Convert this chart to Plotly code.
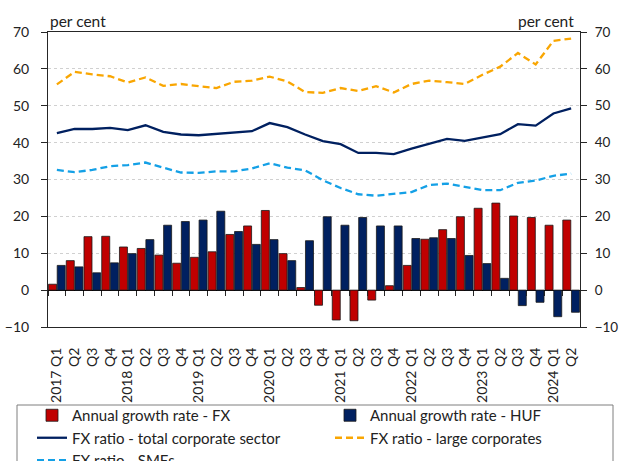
import plotly.graph_objects as go

quarters = ["2017 Q1", "2017 Q2", "2017 Q3", "2017 Q4",
            "2018 Q1", "2018 Q2", "2018 Q3", "2018 Q4",
            "2019 Q1", "2019 Q2", "2019 Q3", "2019 Q4",
            "2020 Q1", "2020 Q2", "2020 Q3", "2020 Q4",
            "2021 Q1", "2021 Q2", "2021 Q3", "2021 Q4",
            "2022 Q1", "2022 Q2", "2022 Q3", "2022 Q4",
            "2023 Q1", "2023 Q2", "2023 Q3", "2023 Q4",
            "2024 Q1", "2024 Q2"]
tick_labels = ["2017 Q1", "Q2", "Q3", "Q4", "2018 Q1", "Q2", "Q3", "Q4",
               "2019 Q1", "Q2", "Q3", "Q4", "2020 Q1", "Q2", "Q3", "Q4",
               "2021 Q1", "Q2", "Q3", "Q4", "2022 Q1", "Q2", "Q3", "Q4",
               "2023 Q1", "Q2", "Q3", "Q4", "2024 Q1", "Q2"]

growth_fx = [1.6, 8.0, 14.5, 14.6, 11.7, 11.3, 9.5, 7.3, 8.9, 10.4, 15.1, 17.4,
             21.6, 9.9, 0.7, -4.1, -8.1, -8.3, -2.7, 1.2, 6.7, 13.8, 16.4, 19.9,
             22.2, 23.6, 20.1, 19.7, 17.6, 19.0]
growth_huf = [6.7, 6.3, 4.7, 7.4, 9.9, 13.7, 17.6, 18.6, 19.0, 21.4, 15.9, 12.4,
              13.7, 8.0, 13.4, 19.9, 17.6, 19.7, 17.4, 17.4, 14.0, 14.2, 14.0, 9.4,
              7.2, 3.2, -4.2, -3.3, -7.2, -6.0]
ratio_total = [42.6, 43.7, 43.7, 44.0, 43.4, 44.7, 42.9, 42.2, 42.0, 42.3, 42.7, 43.1,
               45.3, 44.2, 42.2, 40.4, 39.6, 37.2, 37.2, 36.9, 38.4, 39.7, 41.0, 40.5,
               41.4, 42.3, 45.0, 44.6, 47.9, 49.3]
ratio_large = [55.8, 59.2, 58.5, 58.0, 56.3, 57.7, 55.4, 55.9, 55.3, 54.8, 56.5, 56.8,
               57.9, 56.6, 53.7, 53.5, 54.8, 54.0, 55.3, 53.6, 55.9, 56.8, 56.4, 55.9,
               58.4, 60.6, 64.3, 61.2, 67.6, 68.2]
ratio_sme = [32.6, 32.0, 32.6, 33.6, 33.9, 34.6, 33.2, 31.9, 31.8, 32.2, 32.2, 33.0,
             34.4, 33.2, 32.5, 29.8, 27.7, 26.0, 25.6, 26.0, 26.6, 28.5, 28.9, 28.0,
             27.1, 27.1, 29.1, 29.7, 31.0, 31.6]

FONT = "Lato"
TXT = "#222222"
AX = "#262626"

W, H = 619, 461
ML, MR, MT, MB = 48, 39, 32, 134
PW, PH = W - ML - MR, H - MT - MB


def px_x(p):
    return (p - ML) / PW


def px_y(p):
    return (H - MB - p) / PH


fig = go.Figure()
fig.add_trace(go.Bar(x=quarters, y=growth_fx, name="Annual growth rate - FX", legend="legend",
                     marker=dict(color="#C00000", line=dict(color="#1a1a1a", width=0.8))))
fig.add_trace(go.Bar(x=quarters, y=growth_huf, name="Annual growth rate - HUF", legend="legend2",
                     marker=dict(color="#002060", line=dict(color="#1a1a1a", width=0.8))))
fig.add_trace(go.Scatter(x=quarters, y=ratio_total, mode="lines", legend="legend",
                         name="FX ratio - total corporate sector",
                         line=dict(color="#002060", width=2.3)))
fig.add_trace(go.Scatter(x=quarters, y=ratio_large, mode="lines", legend="legend2",
                         name="FX ratio - large corporates",
                         line=dict(color="#F9A602", width=2.3, dash="7px,4px")))
fig.add_trace(go.Scatter(x=quarters, y=ratio_sme, mode="lines", legend="legend",
                         name="FX ratio - SMEs",
                         line=dict(color="#14A0E6", width=2.3, dash="7px,4px")))
# helper trace so the zero-line tick axis and right axis are drawn
fig.add_trace(go.Scatter(x=quarters, y=[None] * len(quarters), xaxis="x2", yaxis="y2",
                         showlegend=False, hoverinfo="skip", mode="lines"))

yrange = [-10, 70]
leg_font = dict(family=FONT, size=15, color=TXT)
fig.update_layout(
    width=W, height=H,
    margin=dict(l=ML, r=MR, t=MT, b=MB, autoexpand=False),
    paper_bgcolor="white", plot_bgcolor="white",
    barmode="group", bargap=0.02, bargroupgap=0.08,
    font=dict(family=FONT, size=14, color=TXT),
    xaxis=dict(type="category", categoryarray=quarters, range=[-0.5, len(quarters) - 0.5],
               tickmode="array", tickvals=quarters, ticktext=tick_labels,
               tickangle=-90, ticks="", showgrid=False,
               showline=True, linecolor=AX, linewidth=1, mirror=True,
               tickfont=dict(family=FONT, size=14, color=TXT), ticklabelstandoff=14),
    xaxis2=dict(type="category", categoryarray=quarters, range=[-0.5, len(quarters) - 0.5],
                overlaying="x", anchor="free", position=(0 - yrange[0]) / (yrange[1] - yrange[0]),
                ticks="outside", tickson="boundaries", ticklen=5, tickcolor=AX,
                showticklabels=False, showgrid=False, showline=False, zeroline=False),
    yaxis=dict(range=yrange, dtick=10, tick0=0, showline=True, linecolor=AX, linewidth=1,
               ticks="outside", ticklen=6, tickcolor=AX,
               showgrid=True, gridcolor="#D0D0D0", griddash="dot", gridwidth=1,
               zeroline=True, zerolinecolor="#000000", zerolinewidth=1,
               tickfont=dict(family=FONT, size=14, color=TXT), ticklabelstandoff=9),
    yaxis2=dict(range=yrange, dtick=10, tick0=0, overlaying="y", side="right", anchor="x",
                showline=True, linecolor=AX, linewidth=1,
                ticks="outside", ticklen=6, tickcolor=AX, showgrid=False, zeroline=False,
                tickfont=dict(family=FONT, size=13.5, color=TXT), ticklabelstandoff=5),
    legend=dict(orientation="v", x=px_x(32), xanchor="left", y=px_y(399), yanchor="top",
                borderwidth=0, bgcolor="rgba(0,0,0,0)", font=leg_font, traceorder="normal"),
    legend2=dict(orientation="v", x=px_x(330), xanchor="left", y=px_y(399), yanchor="top",
                 borderwidth=0, bgcolor="rgba(0,0,0,0)", font=leg_font, traceorder="normal"),
    shapes=[dict(type="rect", xref="paper", yref="paper",
                 x0=px_x(17), x1=px_x(613), y0=px_y(475), y1=px_y(405),
                 line=dict(color="#7f7f7f", width=1), fillcolor="rgba(0,0,0,0)", layer="below")],
    annotations=[
        dict(text="per cent", xref="paper", yref="paper", x=0, y=1, xanchor="left",
             yanchor="bottom", showarrow=False, font=dict(family=FONT, size=15.5, color=TXT)),
        dict(text="per cent", xref="paper", yref="paper", x=1, y=1, xanchor="right",
             yanchor="bottom", xshift=-4, showarrow=False,
             font=dict(family=FONT, size=15.5, color=TXT)),
    ],
)

fig.write_html("out.html", config={"displayModeBar": False},
               post_script="document.body.style.margin='0px';")
